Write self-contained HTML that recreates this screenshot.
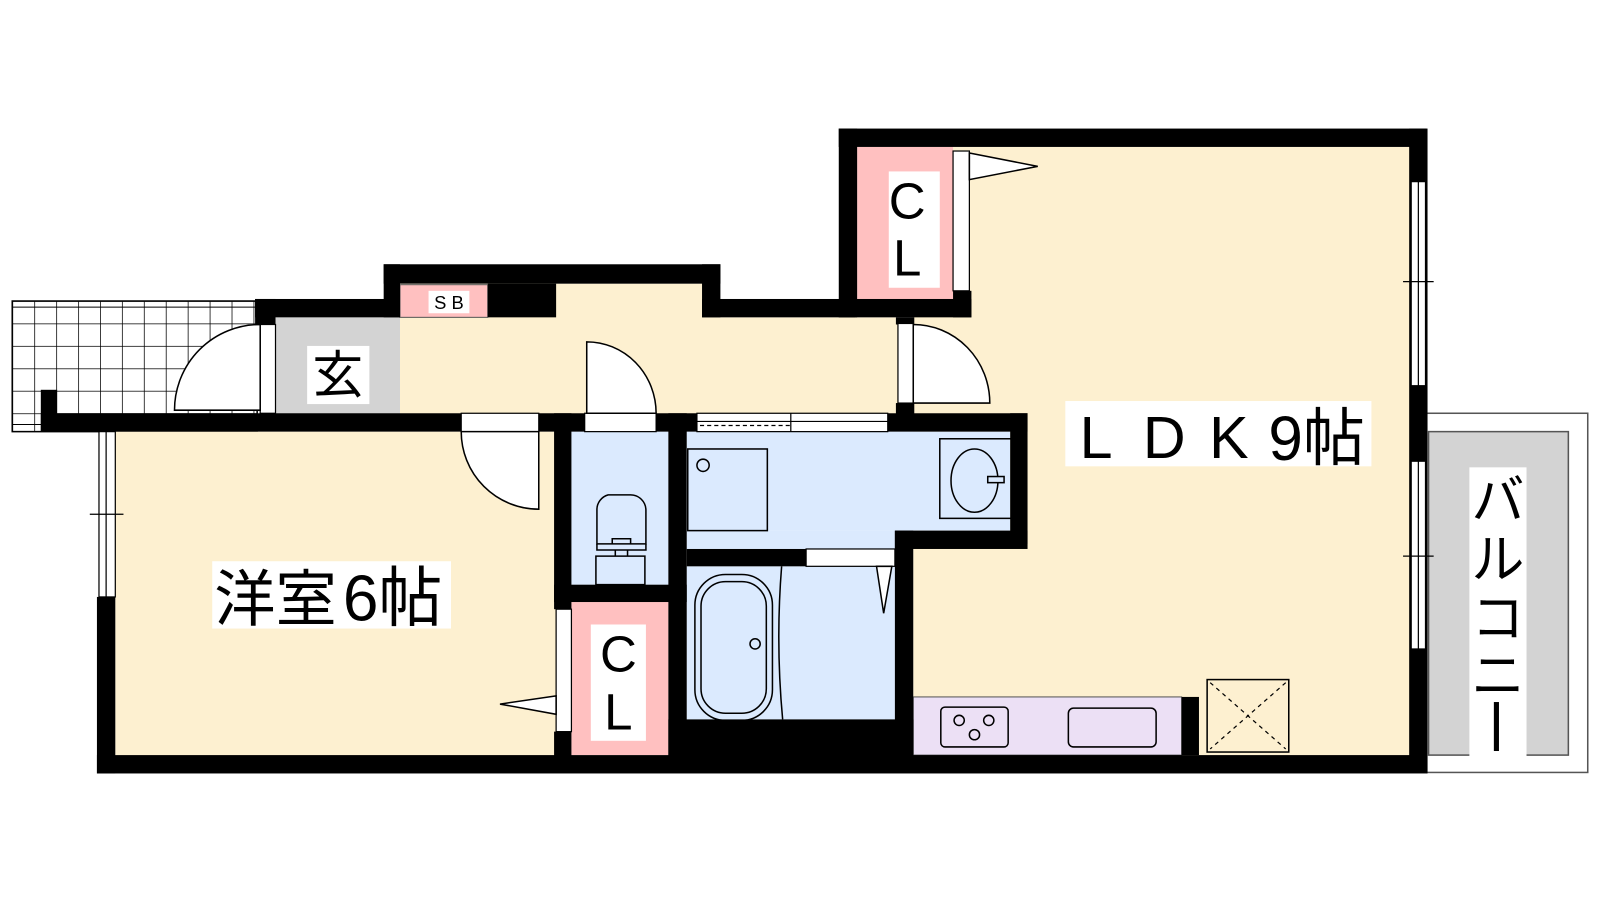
<!DOCTYPE html>
<html><head><meta charset="utf-8"><style>
html,body{margin:0;padding:0;background:#fff;}
svg{display:block;}
text{font-family:"Liberation Sans","Noto Sans CJK JP",sans-serif;}
</style></head><body>
<svg width="1600" height="900" viewBox="0 0 1600 900" xmlns="http://www.w3.org/2000/svg">
<defs>
<pattern id="grid" x="12" y="295" width="21.5" height="22" patternUnits="userSpaceOnUse">
<rect width="21.5" height="22" fill="#fff"/>
<path d="M0 0H21.5M0 0V22" stroke="#000" stroke-width="1.5"/>
</pattern>
</defs>
<g transform="scale(1.0204)">
<rect x="12" y="295" width="240" height="128" fill="url(#grid)" stroke="#000" stroke-width="1.5"/>
<line x1="12" y1="301" x2="252" y2="301" stroke="#000" stroke-width="1"/>
<line x1="12" y1="416" x2="252" y2="416" stroke="#000" stroke-width="1"/>
<rect x="1398" y="405" width="158" height="352" fill="#fff" stroke="#555" stroke-width="1.5"/>
<rect x="1400" y="423" width="137" height="317" fill="#d3d3d3" stroke="#555" stroke-width="1.5"/>
<rect x="113" y="423" width="432" height="319" fill="#fdf0d0"/>
<rect x="392" y="311" width="490" height="102" fill="#fdf0d0"/>
<rect x="392" y="278" width="298" height="35" fill="#fdf0d0"/>
<rect x="895" y="144" width="488" height="598" fill="#fdf0d0"/>
<rect x="270" y="311" width="122" height="102" fill="#d3d3d3"/>
<rect x="392" y="279" width="86" height="32" fill="#ffc0c0" stroke="#555" stroke-width="1"/>
<rect x="840" y="144" width="94" height="149" fill="#ffc0c0"/>
<rect x="560" y="590" width="95" height="150" fill="#ffc0c0"/>
<rect x="560" y="423" width="95" height="150" fill="#dbeafe"/>
<rect x="673" y="423" width="317" height="97" fill="#dbeafe"/>
<rect x="673" y="520" width="204" height="18" fill="#dbeafe"/>
<rect x="673" y="555" width="204" height="150" fill="#dbeafe"/>
<rect x="895" y="683" width="263" height="57" fill="#ece0f5" stroke="#555" stroke-width="1"/>
<g fill="#000">
<rect x="822" y="126" width="576" height="18"/>
<rect x="822" y="126" width="18" height="185"/>
<rect x="1381" y="126" width="18" height="631"/>
<rect x="95" y="740" width="1304" height="18"/>
<rect x="95" y="585" width="18" height="173"/>
<rect x="40" y="382" width="16" height="41"/>
<rect x="40" y="405" width="412" height="18"/>
<rect x="528" y="405" width="45" height="18"/>
<rect x="643" y="405" width="40" height="18"/>
<rect x="870" y="405" width="137" height="18"/>
<rect x="878" y="395" width="18" height="20"/>
<rect x="250" y="293" width="142" height="18"/>
<rect x="250" y="293" width="20" height="25"/>
<rect x="376" y="259" width="330" height="19"/>
<rect x="376" y="259" width="16" height="52"/>
<rect x="478" y="278" width="67" height="33"/>
<rect x="688" y="259" width="18" height="52"/>
<rect x="688" y="293" width="150" height="18"/>
<rect x="822" y="293" width="130" height="18"/>
<rect x="934" y="285" width="18" height="26"/>
<rect x="878" y="311" width="18" height="7"/>
<rect x="990" y="405" width="17" height="128"/>
<rect x="877" y="520" width="130" height="18"/>
<rect x="877" y="520" width="18" height="222"/>
<rect x="543" y="405" width="17" height="192"/>
<rect x="543" y="717" width="17" height="25"/>
<rect x="655" y="405" width="18" height="337"/>
<rect x="543" y="573" width="130" height="17"/>
<rect x="673" y="538" width="117" height="17"/>
<rect x="655" y="705" width="240" height="37"/>
<rect x="1158" y="683" width="17" height="57"/>
</g>
<g fill="#fff" stroke="#000" stroke-width="1.2">
<rect x="97" y="423" width="16" height="162"/>
<rect x="1383" y="178" width="14" height="200"/>
<rect x="1383" y="452" width="14" height="184"/>
<rect x="452" y="405" width="76" height="18"/>
<rect x="573" y="405" width="70" height="18"/>
<rect x="683" y="405" width="187" height="18"/>
<rect x="790" y="538" width="87" height="17"/>
<rect x="934" y="148" width="16" height="137"/>
<rect x="545" y="597" width="15" height="120"/>
<rect x="880" y="317" width="15" height="78"/>
<rect x="255" y="318" width="15" height="87"/>
</g>
<g stroke="#000" stroke-width="1.2" fill="none">
<line x1="104" y1="423" x2="104" y2="585"/><line x1="88" y1="504" x2="121" y2="504"/>
<line x1="1390" y1="178" x2="1390" y2="378"/><line x1="1375" y1="276" x2="1405" y2="276"/>
<line x1="1390" y1="452" x2="1390" y2="636"/><line x1="1375" y1="545" x2="1405" y2="545"/>
<line x1="683" y1="413" x2="870" y2="413"/>
<line x1="686" y1="417" x2="775" y2="417" stroke-dasharray="4,3"/>
<line x1="775" y1="405" x2="775" y2="423"/>
</g>
<g fill="#fff" stroke="#000" stroke-width="1.5">
<path d="M255 318 A84 84 0 0 0 171 402 L255 402 Z"/>
<path d="M452 423 A76 76 0 0 0 528 499 L528 423 Z"/>
<path d="M575 405 L575 335 A68 70 0 0 1 643 405 Z"/>
<path d="M895 318 A75 77 0 0 1 970 395 L895 395 Z"/>
<path d="M950 150 L1017 163 L950 176 Z"/>
<path d="M545 682 L490 690 L545 700 Z"/>
<path d="M859 555 L866 601 L874 555 Z"/>
</g>
<g fill="none" stroke="#000" stroke-width="1.5">
<rect x="674" y="440" width="78" height="80"/>
<circle cx="689" cy="456" r="6"/>
<rect x="921" y="430" width="70" height="78"/>
<ellipse cx="955" cy="471" rx="23" ry="31"/>
<rect x="968" y="467" width="16" height="6" fill="#dbeafe"/>
<path d="M596 485 h22 a15 15 0 0 1 15 15 v33 h-48 v-33 a15 15 0 0 1 11 -15 Z"/>
<path d="M585 533 v6 h48 v-6 M600 533 v-5 h18 v5 M585 539 h48 M603 539 v6 h12 v-6 M596 545 h36 v28 h-48 v-28 Z"/>
<rect x="681" y="563" width="76" height="143" rx="30"/>
<rect x="687" y="570" width="64" height="129" rx="24"/>
<circle cx="740" cy="631" r="5"/>
<path d="M766 555 Q760 630 767 705"/>
<rect x="922" y="693" width="66" height="39" rx="4"/>
<circle cx="940" cy="706" r="5"/><circle cx="969" cy="706" r="5"/><circle cx="955" cy="720" r="5"/>
<rect x="1047" y="694" width="86" height="38" rx="5"/>
<rect x="1183" y="666" width="80" height="71"/>
<path d="M1186 669 L1260 734 M1260 669 L1186 734" stroke-dasharray="4,4" stroke-width="1.2"/>
</g>
<rect x="1044" y="393" width="300" height="64" fill="#fff"/>
<text x="1058" y="449" font-size="58">L</text>
<text x="1120" y="449" font-size="58">D</text>
<text x="1185" y="449" font-size="58">K</text>
<text x="1243" y="451" font-size="62" transform="translate(1243 0) scale(0.98 1) translate(-1243 0)">9帖</text>
<rect x="208" y="550" width="234" height="66" fill="#fff"/>
<text x="210" y="608" font-size="60">洋室</text>
<text x="336" y="608" font-size="64" transform="translate(336 0) scale(0.98 1) translate(-336 0)">6帖</text>
<rect x="1440" y="458" width="56" height="284" fill="#fff"/>
<text x="1468" y="508" font-size="52" text-anchor="middle">バ</text>
<text x="1468" y="566" font-size="52" text-anchor="middle">ル</text>
<text x="1468" y="624" font-size="52" text-anchor="middle">コ</text>
<text x="1468" y="680" font-size="52" text-anchor="middle">ニ</text>
<rect x="1464" y="688" width="5" height="48" fill="#000"/>
<rect x="301" y="339" width="61" height="57" fill="#fff"/>
<text x="331" y="385" font-size="50" text-anchor="middle">玄</text>
<rect x="420" y="285" width="40" height="22" fill="#fff"/>
<text x="440" y="303" font-size="18" text-anchor="middle">S B</text>
<rect x="871" y="168" width="50" height="114" fill="#fff"/>
<text x="889" y="214" font-size="50" text-anchor="middle">C</text>
<text x="889" y="270" font-size="50" text-anchor="middle">L</text>
<rect x="579" y="612" width="54" height="114" fill="#fff"/>
<text x="606" y="658" font-size="50" text-anchor="middle">C</text>
<text x="606" y="715" font-size="50" text-anchor="middle">L</text>
</g>
</svg>
</body></html>
